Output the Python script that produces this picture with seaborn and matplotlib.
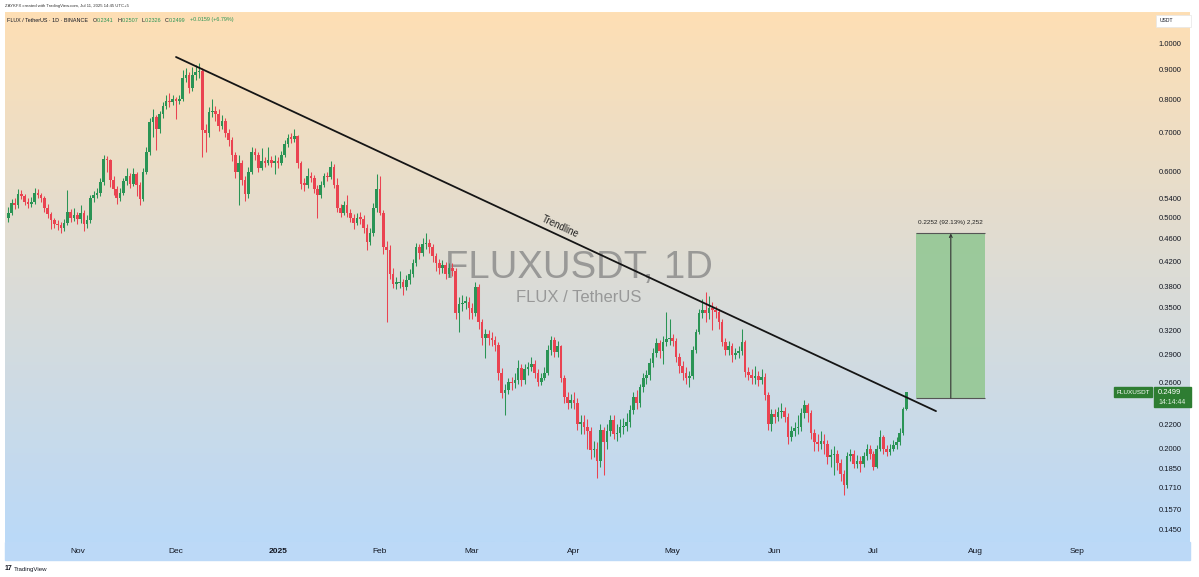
import numpy as np
import pandas as pd
import matplotlib
matplotlib.use("Agg")
import matplotlib.pyplot as plt
import matplotlib.dates as mdates
from matplotlib.patches import Rectangle
from matplotlib.ticker import NullLocator
import seaborn as sns

# FLUX / USDT daily candles (Oct 11 2024 -> Jul 11 2025)
start_date = "2024-10-11"
first_open = 0.500

close_oct = [0.510, 0.530, 0.525, 0.550, 0.545, 0.532, 0.528, 0.533, 0.552, 0.548, 0.540, 0.520, 0.508, 0.495, 0.488, 0.485, 0.480, 0.490, 0.512, 0.500, 0.505]
high_oct = [0.522, 0.538, 0.540, 0.560, 0.558, 0.550, 0.540, 0.542, 0.562, 0.560, 0.552, 0.545, 0.528, 0.512, 0.500, 0.495, 0.492, 0.498, 0.558, 0.518, 0.520]
low_oct = [0.492, 0.505, 0.518, 0.520, 0.538, 0.525, 0.520, 0.522, 0.528, 0.540, 0.532, 0.512, 0.500, 0.478, 0.480, 0.476, 0.470, 0.474, 0.485, 0.492, 0.494]

close_nov = [0.498, 0.510, 0.488, 0.495, 0.540, 0.548, 0.552, 0.575, 0.630, 0.628, 0.580, 0.560, 0.540, 0.552, 0.578, 0.590, 0.572, 0.595, 0.570, 0.538, 0.600, 0.650, 0.730, 0.745, 0.710, 0.755, 0.780, 0.795, 0.790, 0.800]
high_nov = [0.512, 0.525, 0.515, 0.505, 0.548, 0.556, 0.562, 0.585, 0.640, 0.638, 0.632, 0.590, 0.568, 0.562, 0.585, 0.610, 0.598, 0.608, 0.600, 0.575, 0.610, 0.662, 0.742, 0.770, 0.752, 0.765, 0.790, 0.815, 0.820, 0.812]
low_nov = [0.488, 0.490, 0.474, 0.480, 0.490, 0.532, 0.540, 0.545, 0.570, 0.600, 0.565, 0.548, 0.528, 0.535, 0.548, 0.570, 0.562, 0.566, 0.545, 0.525, 0.535, 0.595, 0.642, 0.690, 0.655, 0.700, 0.742, 0.770, 0.775, 0.782]

close_dec = [0.795, 0.800, 0.870, 0.880, 0.835, 0.880, 0.890, 0.895, 0.708, 0.700, 0.760, 0.765, 0.755, 0.720, 0.735, 0.700, 0.680, 0.640, 0.600, 0.620, 0.580, 0.550, 0.600, 0.650, 0.640, 0.610, 0.625, 0.620, 0.628, 0.622, 0.625]
high_dec = [0.808, 0.815, 0.900, 0.905, 0.890, 0.910, 0.915, 0.925, 0.905, 0.725, 0.775, 0.800, 0.780, 0.770, 0.750, 0.742, 0.712, 0.690, 0.648, 0.640, 0.628, 0.590, 0.612, 0.662, 0.658, 0.648, 0.660, 0.635, 0.662, 0.638, 0.640]
low_dec = [0.740, 0.785, 0.795, 0.855, 0.820, 0.828, 0.865, 0.870, 0.635, 0.650, 0.690, 0.745, 0.735, 0.705, 0.712, 0.690, 0.665, 0.625, 0.585, 0.525, 0.570, 0.535, 0.540, 0.595, 0.628, 0.600, 0.605, 0.612, 0.615, 0.612, 0.595]

close_jan = [0.620, 0.640, 0.670, 0.686, 0.684, 0.692, 0.620, 0.572, 0.570, 0.590, 0.585, 0.560, 0.547, 0.570, 0.590, 0.588, 0.612, 0.570, 0.520, 0.510, 0.525, 0.510, 0.500, 0.490, 0.500, 0.498, 0.480, 0.454, 0.470, 0.520, 0.560]
high_jan = [0.636, 0.652, 0.680, 0.698, 0.700, 0.712, 0.695, 0.625, 0.585, 0.608, 0.600, 0.592, 0.570, 0.578, 0.598, 0.600, 0.625, 0.618, 0.585, 0.528, 0.535, 0.548, 0.518, 0.508, 0.510, 0.512, 0.505, 0.488, 0.480, 0.530, 0.595]
low_jan = [0.610, 0.615, 0.635, 0.662, 0.672, 0.675, 0.610, 0.560, 0.555, 0.562, 0.575, 0.552, 0.500, 0.540, 0.565, 0.578, 0.582, 0.562, 0.512, 0.502, 0.505, 0.502, 0.492, 0.478, 0.485, 0.488, 0.470, 0.440, 0.448, 0.465, 0.512]

close_feb = [0.510, 0.445, 0.440, 0.400, 0.385, 0.386, 0.388, 0.380, 0.390, 0.400, 0.417, 0.445, 0.435, 0.450, 0.452, 0.445, 0.430, 0.417, 0.410, 0.415, 0.400, 0.410, 0.405, 0.343, 0.355, 0.357, 0.358, 0.350]
high_feb = [0.590, 0.515, 0.455, 0.448, 0.410, 0.395, 0.405, 0.392, 0.398, 0.408, 0.425, 0.452, 0.450, 0.462, 0.470, 0.460, 0.450, 0.435, 0.425, 0.422, 0.420, 0.418, 0.418, 0.410, 0.365, 0.368, 0.366, 0.365]
low_feb = [0.505, 0.432, 0.330, 0.392, 0.378, 0.376, 0.378, 0.368, 0.375, 0.385, 0.395, 0.412, 0.425, 0.430, 0.442, 0.435, 0.420, 0.405, 0.400, 0.402, 0.392, 0.395, 0.396, 0.335, 0.318, 0.345, 0.348, 0.335]

close_mar = [0.343, 0.380, 0.330, 0.310, 0.315, 0.310, 0.308, 0.302, 0.270, 0.249, 0.252, 0.260, 0.259, 0.262, 0.275, 0.262, 0.274, 0.276, 0.280, 0.270, 0.260, 0.265, 0.270, 0.296, 0.308, 0.293, 0.300, 0.265, 0.245, 0.240, 0.242]
high_mar = [0.356, 0.388, 0.385, 0.335, 0.322, 0.320, 0.318, 0.312, 0.305, 0.275, 0.258, 0.265, 0.266, 0.270, 0.284, 0.280, 0.280, 0.282, 0.288, 0.284, 0.274, 0.270, 0.276, 0.302, 0.312, 0.311, 0.306, 0.302, 0.268, 0.250, 0.248]
low_mar = [0.334, 0.338, 0.322, 0.302, 0.286, 0.302, 0.300, 0.295, 0.262, 0.244, 0.228, 0.248, 0.252, 0.254, 0.258, 0.256, 0.258, 0.268, 0.272, 0.265, 0.256, 0.257, 0.262, 0.268, 0.290, 0.288, 0.288, 0.260, 0.240, 0.234, 0.235]

close_apr = [0.240, 0.220, 0.222, 0.218, 0.214, 0.199, 0.200, 0.190, 0.215, 0.205, 0.214, 0.224, 0.212, 0.213, 0.218, 0.219, 0.222, 0.233, 0.245, 0.240, 0.255, 0.265, 0.268, 0.281, 0.292, 0.304, 0.295, 0.305, 0.309, 0.310]
high_apr = [0.250, 0.244, 0.228, 0.228, 0.225, 0.218, 0.206, 0.205, 0.220, 0.218, 0.220, 0.228, 0.228, 0.220, 0.225, 0.226, 0.230, 0.238, 0.250, 0.252, 0.258, 0.270, 0.273, 0.286, 0.298, 0.310, 0.308, 0.312, 0.344, 0.335]
low_apr = [0.234, 0.215, 0.212, 0.212, 0.200, 0.192, 0.193, 0.178, 0.186, 0.180, 0.200, 0.210, 0.208, 0.206, 0.209, 0.212, 0.214, 0.218, 0.229, 0.234, 0.236, 0.250, 0.258, 0.263, 0.276, 0.288, 0.286, 0.280, 0.300, 0.302]

close_may = [0.307, 0.288, 0.278, 0.270, 0.265, 0.267, 0.296, 0.318, 0.343, 0.347, 0.342, 0.350, 0.346, 0.344, 0.330, 0.305, 0.296, 0.300, 0.290, 0.292, 0.294, 0.305, 0.271, 0.268, 0.265, 0.267, 0.263, 0.266, 0.247, 0.220, 0.229]
high_may = [0.315, 0.310, 0.292, 0.283, 0.276, 0.272, 0.300, 0.322, 0.348, 0.362, 0.372, 0.366, 0.358, 0.352, 0.348, 0.334, 0.310, 0.306, 0.304, 0.298, 0.300, 0.322, 0.308, 0.276, 0.274, 0.278, 0.272, 0.274, 0.270, 0.250, 0.234]
low_may = [0.300, 0.282, 0.270, 0.262, 0.258, 0.255, 0.264, 0.292, 0.315, 0.336, 0.330, 0.335, 0.320, 0.336, 0.322, 0.300, 0.290, 0.290, 0.282, 0.285, 0.286, 0.290, 0.266, 0.262, 0.258, 0.258, 0.256, 0.258, 0.242, 0.215, 0.214]

close_jun = [0.227, 0.231, 0.232, 0.227, 0.209, 0.214, 0.217, 0.218, 0.230, 0.238, 0.230, 0.213, 0.205, 0.204, 0.206, 0.204, 0.193, 0.195, 0.196, 0.189, 0.181, 0.173, 0.194, 0.196, 0.188, 0.190, 0.188, 0.194, 0.200, 0.196]
high_jun = [0.234, 0.236, 0.240, 0.236, 0.230, 0.219, 0.222, 0.228, 0.235, 0.242, 0.240, 0.233, 0.216, 0.212, 0.214, 0.212, 0.207, 0.200, 0.202, 0.199, 0.192, 0.184, 0.197, 0.200, 0.199, 0.195, 0.194, 0.197, 0.204, 0.203]
low_jun = [0.221, 0.223, 0.226, 0.222, 0.204, 0.206, 0.210, 0.212, 0.214, 0.226, 0.222, 0.208, 0.198, 0.198, 0.200, 0.196, 0.188, 0.186, 0.180, 0.184, 0.176, 0.166, 0.171, 0.190, 0.185, 0.185, 0.182, 0.186, 0.191, 0.192]

close_jul = [0.186, 0.200, 0.209, 0.200, 0.197, 0.200, 0.203, 0.205, 0.213, 0.2341, 0.2499]
high_jul = [0.198, 0.203, 0.215, 0.211, 0.203, 0.204, 0.207, 0.209, 0.217, 0.236, 0.2507]
low_jul = [0.184, 0.185, 0.198, 0.196, 0.194, 0.195, 0.198, 0.200, 0.203, 0.211, 0.2326]

# trendline anchors and measure box
trend_dates = ["2024-12-01", "2025-07-20"]
trend_prices = [0.946, 0.232]
box_dates = ["2025-07-14", "2025-08-04"]
box_low, box_high = 0.2444, 0.4696

price_ticks = [1.0, 0.9, 0.8, 0.7, 0.6, 0.54, 0.5, 0.46, 0.42, 0.38, 0.35, 0.32,
               0.29, 0.26, 0.22, 0.2, 0.185, 0.171, 0.157, 0.145]
month_ticks = ["2024-11-01", "2024-12-01", "2025-01-01", "2025-02-01", "2025-03-01", "2025-04-01",
               "2025-05-01", "2025-06-01", "2025-07-01", "2025-08-01", "2025-09-01"]
month_labels = ["Nov", "Dec", "2025", "Feb", "Mar", "Apr", "May", "Jun", "Jul", "Aug", "Sep"]

# assemble the dataframe
closes = close_oct + close_nov + close_dec + close_jan + close_feb + close_mar + close_apr + close_may + close_jun + close_jul
highs = high_oct + high_nov + high_dec + high_jan + high_feb + high_mar + high_apr + high_may + high_jun + high_jul
lows = low_oct + low_nov + low_dec + low_jan + low_feb + low_mar + low_apr + low_may + low_jun + low_jul

df = pd.DataFrame({"date": pd.date_range(start_date, periods=len(closes)),
                   "close": closes, "high": highs, "low": lows})
df["open"] = [first_open] + closes[:-1]
df["high"] = df[["high", "open", "close"]].max(axis=1)
df["low"] = df[["low", "open", "close"]].min(axis=1)
df["x"] = mdates.date2num(df["date"])

sns.set_theme(style="white")
plt.rcParams["font.family"] = ["Liberation Sans", "DejaVu Sans"]

UP = "#2a9455"
DOWN = "#ea4351"
W, H = 1199, 577

fig = plt.figure(figsize=(W / 100, H / 100), dpi=100)
fig.patch.set_facecolor("white")

# background layer in pixel coordinates
bg = fig.add_axes([0, 0, 1, 1])
top_rgb = np.array([254, 223, 180]) / 255
bot_rgb = np.array([186, 217, 248]) / 255
t = np.linspace(0, 1, 256)[:, None, None]
grad = top_rgb * (1 - t) + bot_rgb * t
bg.imshow(grad, extent=[5, 1190, 542, 12], aspect="auto", zorder=0)
bg.add_patch(Rectangle((5, 542), 1185, 18, color="#bcd9f7", zorder=1))
bg.set_xlim(0, W)
bg.set_ylim(H, 0)
bg.axis("off")

# watermark
bg.text(579, 268, "FLUXUSDT, 1D", fontsize=27.5, color="#888888", alpha=0.8,
        ha="center", va="center", zorder=2)
bg.text(579, 297, "FLUX / TetherUS", fontsize=12, color="#888888", alpha=0.8,
        ha="center", va="center", zorder=2)

# header texts
bg.text(5, 6, "ZAYKFX created with TradingView.com, Jul 11, 2025 14:45 UTC+5",
        fontsize=3.1, color="#333333", va="center")
legend_parts = [(7, "FLUX / TetherUS · 1D · BINANCE", "#131722"),
                (93, "O", "#131722"), (96.5, "0.2341", UP),
                (118, "H", "#131722"), (121.5, "0.2507", UP),
                (142, "L", "#131722"), (145, "0.2326", UP),
                (165, "C", "#131722"), (168.5, "0.2499", UP),
                (190, "+0.0159 (+6.79%)", UP)]
for lx, txt, col in legend_parts:
    bg.text(lx, 20, txt, fontsize=3.9, color=col, va="center")

# footer logo
bg.text(5, 569, "17", fontsize=5, fontweight="heavy", color="#131722", va="center")
bg.text(14, 569, "TradingView", fontsize=4.4, color="#131722", va="center")

# USDT box on the price scale
bg.add_patch(Rectangle((1156, 15), 35, 12, facecolor="white", edgecolor="#e6e6e6", lw=0.5, zorder=3))
bg.text(1160, 21, "USDT", fontsize=3.6, color="#131722", va="center", zorder=4)

# main price axes
ax = fig.add_axes([5 / W, 1 - 542 / H, 1095 / W, 530 / H])
ax.set_facecolor("none")
ax.set_yscale("log")

colors = np.where(df["close"] >= df["open"], UP, DOWN)
ax.vlines(df["x"], df["low"], df["high"], colors=colors, linewidth=0.75, zorder=3)
body_bottom = df[["open", "close"]].min(axis=1)
body_height = np.maximum((df["close"] - df["open"]).abs(), body_bottom * 0.005)
ax.bar(df["x"], body_height, bottom=body_bottom, width=0.8, color=colors, linewidth=0, zorder=4)

# trendline
trend = pd.DataFrame({"x": mdates.date2num(pd.to_datetime(trend_dates)), "price": trend_prices})
sns.lineplot(data=trend, x="x", y="price", ax=ax, color="#151515", linewidth=1.3, zorder=5)
ax.text(mdates.date2num(pd.Timestamp("2025-03-27")) + 0.7, 0.482, "Trendline", rotation=-24.9,
        ha="center", va="center", rotation_mode="anchor", fontsize=7, color="#222222", zorder=6)

# long position / measure box
bx0, bx1 = mdates.date2num(pd.to_datetime(box_dates))
ax.add_patch(Rectangle((bx0, box_low), bx1 - bx0, box_high - box_low,
                       facecolor="#99c999", edgecolor="none", alpha=0.97, zorder=2))
ax.hlines([box_low, box_high], bx0, bx1, color="#555555", linewidth=0.8, zorder=3)
bxm = (bx0 + bx1) / 2
ax.annotate("", xy=(bxm, box_high), xytext=(bxm, box_low),
            arrowprops=dict(arrowstyle="->", color="#333333", lw=0.8, shrinkA=0, shrinkB=0,
                            mutation_scale=5), zorder=3)
ax.annotate("0.2252 (92.13%) 2,252", xy=(bx0, box_high), xytext=(1, 8),
            textcoords="offset points", fontsize=4.6, color="#222222", va="center")

jan1 = mdates.date2num(pd.Timestamp("2025-01-01"))
ax.set_xlim(jan1 - 82.98, jan1 + 249.85)
ax.set_ylim(0.138, 1.131)

ax.yaxis.tick_right()
ax.set_yticks(price_ticks)
ax.set_yticklabels([f"{v:.4f}" for v in price_ticks])
ax.yaxis.set_minor_locator(NullLocator())
ax.tick_params(axis="y", length=0, pad=42, labelsize=5.5, labelcolor="#131722")

ax.set_xticks(mdates.date2num(pd.to_datetime(month_ticks)))
ax.set_xticklabels(month_labels)
ax.tick_params(axis="x", length=0, pad=4, labelsize=6, labelcolor="#131722")
ax.get_xticklabels()[2].set_fontweight("bold")
ax.set_xlabel("")
ax.set_ylabel("")
ax.grid(False)
for sp in ax.spines.values():
    sp.set_visible(False)

# last price labels on the scale
last = df["close"].iloc[-1]
yp = H - ax.transData.transform((jan1, last))[1]
bg.add_patch(Rectangle((1114, yp - 5), 38, 10, color="#2e7d32", zorder=3))
bg.text(1133, yp, "FLUXUSDT", fontsize=4.6, color="white", ha="center", va="center", zorder=4)
bg.add_patch(Rectangle((1154, yp - 5), 37, 20, color="#2e7d32", zorder=3))
bg.text(1158, yp, f"{last:.4f}", fontsize=5.5, color="white", va="center", zorder=4)
bg.text(1158, yp + 10, "14:14:44", fontsize=5, color="#dff0df", va="center", zorder=4)

fig.savefig("out.png", dpi=100)
